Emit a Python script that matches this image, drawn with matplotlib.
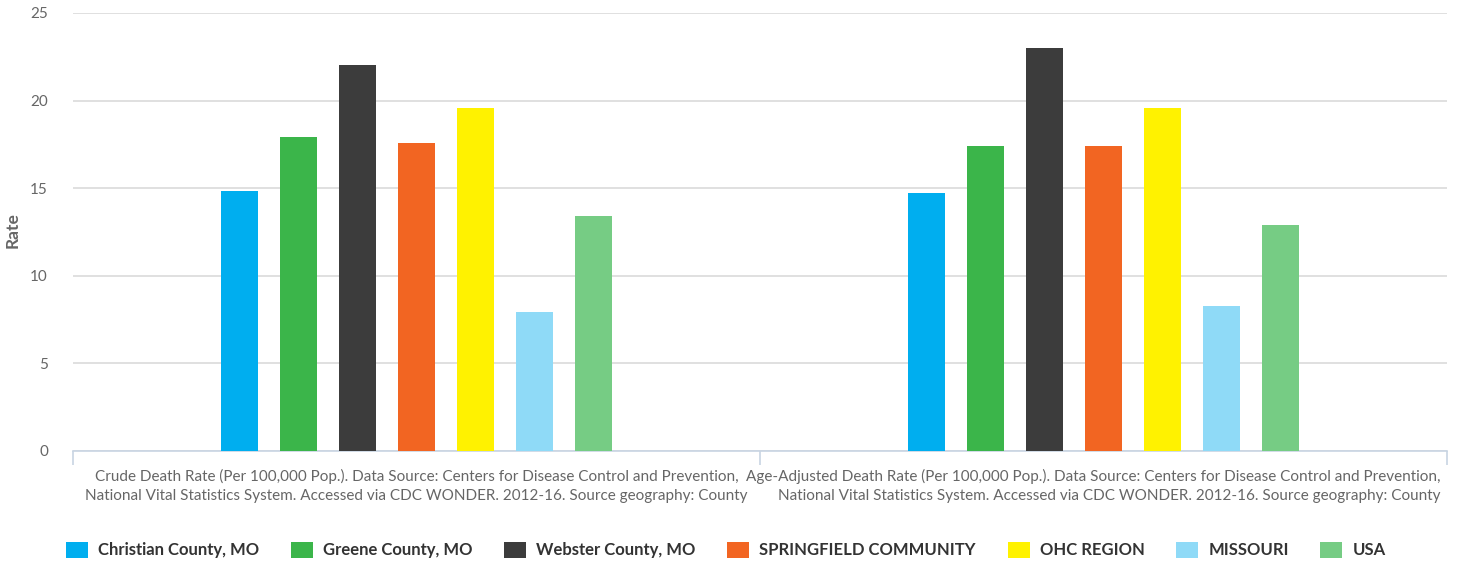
import matplotlib
matplotlib.use("Agg")
import matplotlib.pyplot as plt
import numpy as np
from matplotlib.patches import Patch

plt.rcParams['font.family'] = ['Lato', 'DejaVu Sans']

categories = [
    ["Crude Death Rate (Per 100,000 Pop.). Data Source: Centers for Disease Control and Prevention,",
     "National Vital Statistics System. Accessed via CDC WONDER. 2012-16. Source geography: County"],
    ["Age-Adjusted Death Rate (Per 100,000 Pop.). Data Source: Centers for Disease Control and Prevention,",
     "National Vital Statistics System. Accessed via CDC WONDER. 2012-16. Source geography: County"],
]
series_names = ["Christian County, MO", "Greene County, MO", "Webster County, MO",
                "SPRINGFIELD COMMUNITY", "OHC REGION", "MISSOURI", "USA"]
colors = ["#00aeef", "#3bb54a", "#3c3c3c", "#f26522", "#fff200", "#8fdaf7", "#76cc84"]
values = [
    [14.85, 14.7],
    [17.95, 17.4],
    [22.05, 23.0],
    [17.6, 17.4],
    [19.55, 19.55],
    [7.95, 8.3],
    [13.4, 12.9],
]
yticks = [0, 5, 10, 15, 20, 25]

W, H = 1465, 567
fig = plt.figure(figsize=(W/100, H/100), dpi=100)
ax = fig.add_axes([73/W, 1-451/H, (1447-73)/W, (451-13)/H])

slot = 59/687
bw = 37/687
x = np.arange(len(categories))
n = len(series_names)
for i, (name, vals, c) in enumerate(zip(series_names, values, colors)):
    offs = (i - (n-1)/2) * slot
    ax.bar(x + offs, vals, width=bw, color=c, label=name, zorder=3)

ax.set_xlim(-0.5, 1.5)
ax.set_ylim(0, 25)
ax.set_yticks(yticks)
ax.set_yticklabels([str(t) for t in yticks], color="#666666", fontsize=11)
ax.yaxis.grid(True, color="#dddddd", linewidth=1.3, zorder=0)
ax.set_axisbelow(True)
for s in ["left", "right", "top"]:
    ax.spines[s].set_visible(False)
ax.spines["bottom"].set_color("#c8d4e3")
ax.spines["bottom"].set_linewidth(1.2)
ax.tick_params(axis="y", length=0, pad=18)
ax.set_xticks([-0.5, 0.5, 1.5])
ax.set_xticklabels([])
ax.tick_params(axis="x", length=10, color="#c8d4e3", width=1.2)

# category labels (two lines each)
base1 = 1 - 481/H
base2 = 1 - 500/H
lab_fs = 11.0
lab_col = "#666666"
cx0 = ax.transData.transform((0, 0))[0] / W
for yy, line in zip([base1, base2], categories[0]):
    fig.text(cx0, yy, line, ha="center", va="baseline", fontsize=lab_fs, color=lab_col)
for yy, line in zip([base1, base2], categories[1]):
    fig.text(1440/W, yy, line, ha="right", va="baseline", fontsize=lab_fs, color=lab_col)

ax.set_ylabel("Rate", fontsize=12.5, fontweight="bold", color="#666666")
ax.yaxis.set_label_coords(-52/1374, 0.505)

handles = [Patch(facecolor=c, edgecolor="none") for c in colors]
leg = fig.legend(handles, series_names, loc="center", bbox_to_anchor=(726/W, 1-550/H),
                 ncol=7, frameon=False, handlelength=1.32, handleheight=1.08,
                 columnspacing=1.9, handletextpad=0.6, borderaxespad=0,
                 prop={"weight": "bold", "size": 12})
for t in leg.get_texts():
    t.set_color("#333333")

fig.savefig("out.png", dpi=100)
